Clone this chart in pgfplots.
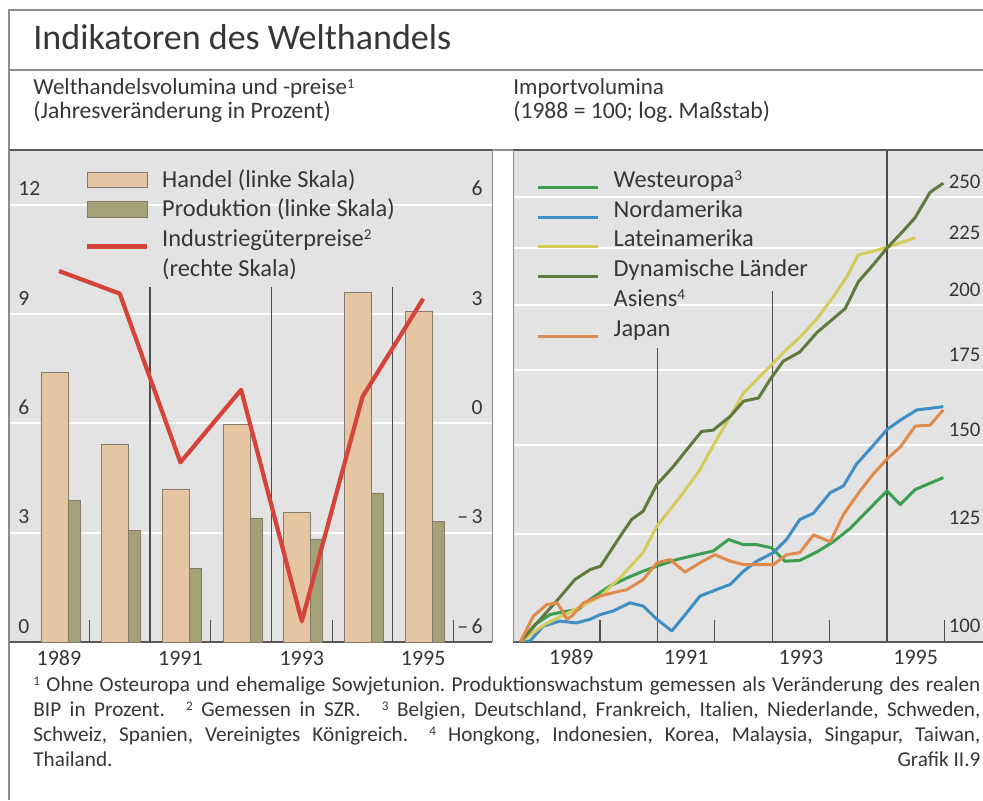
\documentclass[border=0pt]{standalone}
\usepackage{pgfplots}
\pgfplotsset{compat=1.18}
\usepackage{pgfplotstable}
\usepackage{graphicx}
\usepackage{fontspec}
\setmainfont{Carlito}
\frenchspacing
\newcommand\sups[1]{\raisebox{0.62ex}{\scalebox{0.62}{#1}}}
\definecolor{txt}{HTML}{363636}
\definecolor{plotbg}{HTML}{E3E3E3}
\definecolor{handel}{HTML}{E6C6A2}
\definecolor{prod}{HTML}{A3A176}
\definecolor{barline}{HTML}{86796A}
\definecolor{preis}{HTML}{D6433A}
\definecolor{weu}{HTML}{3C9F4F}
\definecolor{nam}{HTML}{3F8FC4}
\definecolor{lam}{HTML}{D4CB5C}
\definecolor{asia}{HTML}{5E7A3C}
\definecolor{jap}{HTML}{E08A4C}
\definecolor{frame}{HTML}{8C8C8C}

\pgfplotstableread{
year handel prod preis
1989 7.40 3.88 4.18
1990 5.42 3.07 3.56
1991 4.20 2.01 -1.07
1992 5.96 3.38 0.92
1993 3.55 2.81 -5.43
1994 9.60 4.09 0.73
1995 9.08 3.32 3.42
}\welthandel

\pgfplotstableread{
t v
1988.61 100
1988.87 103.7
1989.13 105.8
1989.39 106.5
1989.62 106.9
1989.83 109.2
1990.17 112.2
1990.47 114.1
1990.75 115.7
1990.99 116.9
1991.34 118.5
1991.69 119.7
1991.97 120.6
1992.24 123.5
1992.50 122.2
1992.73 122.2
1992.99 121.4
1993.22 118.1
1993.48 118.3
1993.78 120.4
1994.06 122.9
1994.36 126.4
1994.65 130.9
1995.00 136.5
1995.23 132.7
1995.49 136.9
1995.98 140.3
}\weu

\pgfplotstableread{
t v
1988.61 100
1988.78 100.2
1989.01 103.3
1989.30 104.4
1989.59 104.0
1989.83 104.8
1990.00 105.8
1990.23 106.6
1990.52 108.4
1990.75 107.7
1990.99 104.8
1991.25 102.3
1991.51 106.2
1991.74 109.9
1992.03 111.4
1992.27 112.6
1992.50 115.7
1992.73 118.1
1993.02 120.2
1993.25 123.5
1993.48 128.7
1993.72 130.4
1994.01 136.0
1994.24 137.9
1994.47 144.3
1994.76 149.9
1995.00 154.9
1995.23 157.9
1995.52 161.3
1995.75 161.8
1995.98 162.4
}\nam

\pgfplotstableread{
t v
1988.61 100
1989.04 103.7
1989.56 106.9
1990.00 109.8
1990.35 114.2
1990.75 120.2
1990.99 126.9
1991.45 136.0
1991.74 142.6
1992.03 151.7
1992.27 159.2
1992.50 167.0
1992.79 172.9
1993.02 177.7
1993.25 182.7
1993.48 187.3
1993.78 194.6
1994.06 203.5
1994.30 212.2
1994.50 222.0
1994.76 223.6
1995.00 225.5
1995.23 227.5
1995.49 229.9
}\lam

\pgfplotstableread{
t v
1988.61 100
1989.01 105.5
1989.27 109.2
1989.56 113.7
1989.83 116.1
1990.01 116.9
1990.35 124.3
1990.55 128.7
1990.75 130.9
1990.99 138.3
1991.28 143.6
1991.51 148.6
1991.77 154.3
1991.97 154.7
1992.27 159.2
1992.50 164.2
1992.76 165.3
1992.96 171.6
1993.19 178.3
1993.48 181.7
1993.78 189.2
1994.06 194.6
1994.27 198.7
1994.50 210.0
1994.76 217.5
1995.00 225.1
1995.28 233.1
1995.49 239.7
1995.75 252.5
1995.98 257.3
}\asia

\pgfplotstableread{
t v
1988.61 100
1988.84 105.5
1989.07 108.0
1989.25 108.4
1989.33 106.9
1989.42 104.8
1989.51 105.5
1989.71 108.4
1990.00 109.9
1990.23 110.7
1990.47 111.4
1990.75 113.7
1990.99 117.7
1991.22 118.5
1991.48 115.5
1991.74 117.7
1992.00 119.7
1992.27 118.1
1992.50 117.3
1992.73 117.3
1993.02 117.3
1993.25 119.7
1993.48 120.2
1993.72 124.7
1994.01 122.9
1994.24 130.0
1994.53 136.5
1994.76 141.3
1995.00 145.8
1995.23 149.4
1995.49 156.0
1995.75 156.3
1995.98 161.3
}\jap

\begin{document}
\begin{tikzpicture}
\useasboundingbox (0pt,0pt) rectangle (491.5pt,400pt);
\clip (0pt,0pt) rectangle (491.5pt,400pt);
\fill[white] (0pt,0pt) rectangle (491.5pt,400pt);
% frame
\draw[frame, line width=0.6pt] (4.5pt,0pt) -- (4.5pt,395pt) -- (491.5pt,395pt);
\draw[frame, line width=0.6pt] (4.5pt,365pt) -- (491.5pt,365pt);
\draw[frame, line width=0.6pt] (4.5pt,325pt) -- (491.5pt,325pt);
% titles
\node[anchor=base west, inner sep=0pt, text=txt, font=\fontsize{18}{20}\selectfont] at (16.5pt,375pt) {Indikatoren des Welthandels};
\node[anchor=base west, inner sep=0pt, text=txt, font=\fontsize{11.5}{13}\selectfont] at (16.5pt,352.5pt) {Welthandelsvolumina und -preise\sups{1}};
\node[anchor=base west, inner sep=0pt, text=txt, font=\fontsize{11.8}{13}\selectfont] at (16.5pt,341pt) {(Jahresveränderung in Prozent)};
\node[anchor=base west, inner sep=0pt, text=txt, font=\fontsize{11.5}{13}\selectfont] at (256.5pt,352.5pt) {Importvolumina};
\node[anchor=base west, inner sep=0pt, text=txt, font=\fontsize{11.8}{13}\selectfont] at (256.5pt,341pt) {(1988 = 100; log. Maßstab)};
% footnotes
\begin{scope}[every node/.style={anchor=base west, inner sep=0pt, text=txt, font=\fontsize{10.6}{12}\selectfont}]
\node at (16.5pt,54.15pt) {\makebox[473.5pt][s]{\sups{1} Ohne Osteuropa und ehemalige Sowjetunion. Produktionswachstum gemessen als Veränderung des realen}};
\node at (16.5pt,41.65pt) {\makebox[473.5pt][s]{BIP in Prozent.\quad \sups{2} Gemessen in SZR.\quad \sups{3} Belgien, Deutschland, Frankreich, Italien, Niederlande, Schweden,}};
\node at (16.5pt,29.15pt) {\makebox[473.5pt][s]{Schweiz, Spanien, Vereinigtes Königreich.\quad \sups{4} Hongkong, Indonesien, Korea, Malaysia, Singapur, Taiwan,}};
\node at (16.5pt,16.65pt) {\makebox[473.5pt][l]{Thailand.\hfill Grafik II.9}};
\end{scope}

% ---------- left chart: bars ----------
\begin{axis}[
  at={(5pt,79pt)}, anchor=south west,
  width=241pt, height=246pt, scale only axis,
  xmin=1988.193, xmax=1996.133, ymin=0, ymax=13.5,
  axis background/.style={fill=plotbg},
  separate axis lines,
  x axis line style={draw=black!65, line width=0.8pt},
  y axis line style={draw=frame, line width=0.5pt},
  xtick={1989,1991,1993,1995}, xticklabels={1989,1991,1993,1995},
  minor xtick={1989.5,1991.5,1993.5,1995.5},
  major tick length=0pt, minor tick length=11pt,
  tick align=inside, xtick pos=left, ytick pos=left,
  tick style={draw=black!70, line width=0.6pt},
  ytick={0,3,6,9,12}, yticklabels={0,3,6,9,12},
  ymajorgrids, grid style={white, line width=1pt},
  yticklabel style={anchor=base west, inner sep=0pt, xshift=4pt, yshift=4.5pt, text=txt, font=\fontsize{10.8}{12}\selectfont},
  xticklabel style={anchor=base, inner sep=0pt, yshift=-11.5pt, text=txt, font=\fontsize{11}{12}\selectfont},
]
\addplot[black!70, line width=0.6pt, forget plot] coordinates {(1990.5,0) (1990.5,9.75)};
\addplot[black!70, line width=0.6pt, forget plot] coordinates {(1992.5,0) (1992.5,9.75)};
\addplot[black!70, line width=0.6pt, forget plot] coordinates {(1994.5,0) (1994.5,9.75)};
\addplot[ybar, bar width=13.5pt, bar shift=-2.25pt, fill=handel, draw=barline, line width=0.4pt] table[x=year, y=handel] {\welthandel};
\addplot[ybar, bar width=6pt, bar shift=7.5pt, fill=prod, draw=barline, line width=0.4pt] table[x=year, y=prod] {\welthandel};
\end{axis}

% ---------- left chart: price line (right scale) ----------
\begin{axis}[
  at={(5pt,79pt)}, anchor=south west,
  width=241pt, height=246pt, scale only axis,
  xmin=1988.193, xmax=1996.133, ymin=-6, ymax=7.5,
  axis x line=none, axis y line*=right,
  y axis line style={draw=none},
  xtick=\empty,
  ytick={-6,-3,0,3,6}, yticklabels={–\,6,–\,3,0,3,6},
  major tick length=0pt, ytick style={draw=none},
  yticklabel style={anchor=base east, inner sep=0pt, xshift=-4.5pt, yshift=4.5pt, text=txt, font=\fontsize{10.8}{12}\selectfont},
  legend image code/.code={\draw[#1] (0pt,0pt) -- (30pt,0pt);},
  legend style={at={(axis description cs:0.1556,0.973)}, anchor=north west, draw=none, fill=none,
    inner sep=0pt, outer sep=0pt, row sep=-0.7pt, column sep=4.5pt,
    font=\fontsize{12.2}{14}\selectfont, text=txt,
    cells={anchor=base west, inner sep=0pt, text height=10pt, text depth=2.7pt}},
]
\addlegendimage{legend image code/.code={\draw[fill=handel, draw=barline, line width=0.4pt] (0pt,0pt) rectangle (30pt,7.6pt);}}
\addlegendentry{Handel (linke Skala)}
\addlegendimage{legend image code/.code={\draw[fill=prod, draw=barline, line width=0.4pt] (0pt,-0.3pt) rectangle (30pt,7.5pt);}}
\addlegendentry{Produktion (linke Skala)}
\addplot[preis, line width=2.1pt, line join=round] table[x=year, y=preis] {\welthandel};
\addlegendentry{Industriegüterpreise\sups{2}}
\addlegendimage{empty legend}
\addlegendentry{(rechte Skala)}
\end{axis}

% ---------- right chart ----------
\begin{axis}[
  at={(256.5pt,79pt)}, anchor=south west,
  width=238.5pt, height=246pt, scale only axis,
  xmin=1988.484, xmax=1996.794, ymode=log, ymin=100, ymax=275.5,
  axis background/.style={fill=plotbg},
  separate axis lines,
  x axis line style={draw=black!65, line width=0.8pt},
  y axis line style={draw=frame, line width=0.5pt},
  xtick={1989.5,1991.5,1993.5,1995.5}, xticklabels={1989,1991,1993,1995},
  minor xtick={1990,1992,1994,1996},
  major tick length=0pt, minor tick length=11pt,
  tick align=inside, xtick pos=left, ytick pos=right,
  tick style={draw=black!70, line width=0.6pt},
  ytick style={draw=none},
  ytick={100,125,150,175,200,225,250}, yticklabels={100,125,150,175,200,225,250},
  ymajorgrids, grid style={white, line width=1pt},
  yticklabel style={anchor=base west, inner sep=0pt, xshift=-20.8pt, yshift=4.5pt, text=txt, font=\fontsize{10.4}{12}\selectfont},
  xticklabel style={anchor=base, inner sep=0pt, yshift=-11.5pt, text=txt, font=\fontsize{11}{12}\selectfont},
  legend image code/.code={\draw[#1] (0pt,0pt) -- (30pt,0pt);},
  legend style={at={(axis description cs:0.0497,0.973)}, anchor=north west, draw=none, fill=none,
    inner sep=0pt, outer sep=0pt, row sep=-0.6pt, column sep=5pt,
    font=\fontsize{12.2}{14}\selectfont, text=txt,
    cells={anchor=base west, inner sep=0pt, text height=10pt, text depth=3.5pt}},
]
\addplot[black!70, line width=0.6pt, forget plot] coordinates {(1991,100) (1991,183.4)};
\addplot[black!70, line width=0.6pt, forget plot] coordinates {(1993,100) (1993,206)};
\addplot[black!70, line width=0.6pt, forget plot] coordinates {(1995,100) (1995,275.5)};
\addplot[weu, line width=1.5pt, line join=round] table[x=t, y=v] {\weu};
\addlegendentry{Westeuropa\sups{3}}
\addplot[nam, line width=1.5pt, line join=round] table[x=t, y=v] {\nam};
\addlegendentry{Nordamerika}
\addplot[lam, line width=1.5pt, line join=round] table[x=t, y=v] {\lam};
\addlegendentry{Lateinamerika}
\addplot[asia, line width=1.5pt, line join=round] table[x=t, y=v] {\asia};
\addlegendentry{Dynamische Länder}
\addlegendimage{empty legend}
\addlegendentry{Asiens\sups{4}}
\addplot[jap, line width=1.5pt, line join=round] table[x=t, y=v] {\jap};
\addlegendentry{Japan}
\end{axis}
\end{tikzpicture}
\end{document}
